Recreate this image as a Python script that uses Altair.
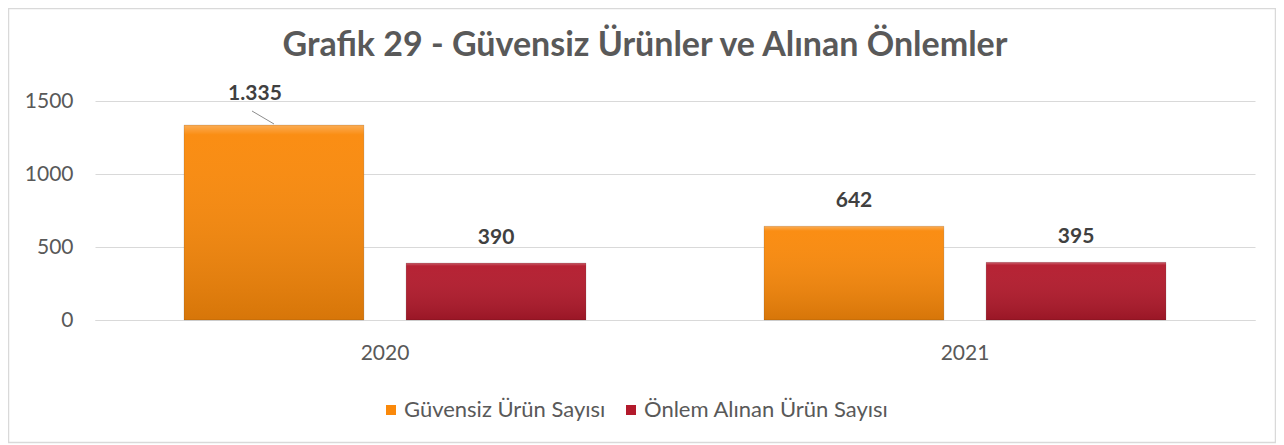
import altair as alt
import pandas as pd

years = ["2020", "2021"]
series = ["Güvensiz Ürün Sayısı", "Önlem Alınan Ürün Sayısı"]
guvensiz = [1335, 642]
onlem = [390, 395]
label_guvensiz = ["1.335", "642"]
label_onlem = ["390", "395"]
colors = ["#FA890A", "#B31A2C"]
y_ticks = [0, 500, 1000, 1500]
title_text = "Grafik 29 - Güvensiz Ürünler ve Alınan Önlemler"

rows = []
for i, y in enumerate(years):
    rows.append({"year": y, "series": series[0], "value": guvensiz[i], "label": label_guvensiz[i]})
    rows.append({"year": y, "series": series[1], "value": onlem[i], "label": label_onlem[i]})
df = pd.DataFrame(rows)

FONT = "Lato"
W, H = 1160, 219

x_enc = alt.X("year:N", title=None, sort=years,
              scale=alt.Scale(paddingInner=0.307, paddingOuter=0.1535),
              axis=alt.Axis(labelAngle=0, ticks=False, domainColor="#d9d9d9",
                            labelFontSize=21, labelColor="#595959", labelFont=FONT,
                            labelPadding=22))
xoff = alt.XOffset("series:N", sort=series, scale=alt.Scale(paddingInner=0.19, paddingOuter=0))

base = alt.Chart(df)

bars = base.mark_bar().encode(
    x=x_enc,
    xOffset=xoff,
    y=alt.Y("value:Q", title=None,
            scale=alt.Scale(domain=[0, 1500], nice=False),
            axis=alt.Axis(values=y_ticks, domain=False, ticks=False, gridColor="#d9d9d9",
                          labelFontSize=21, labelColor="#595959", labelFont=FONT,
                          labelPadding=22, format="d")),
    color=alt.Color("series:N", sort=series,
                    scale=alt.Scale(domain=series, range=colors),
                    legend=alt.Legend(title=None, orient="none", legendX=285, legendY=298,
                                      direction="horizontal", symbolType="square",
                                      symbolSize=100, symbolStrokeWidth=0,
                                      labelFontSize=22, labelColor="#595959", labelFont=FONT,
                                      labelOffset=2, columnPadding=14, labelLimit=500)),
)

shade = base.mark_bar(
    fill=alt.Gradient(gradient="linear", x1=0, y1=0, x2=0, y2=1,
                      stops=[alt.GradientStop(offset=0, color="rgba(255,255,255,0.30)"),
                             alt.GradientStop(offset=0.05, color="rgba(255,255,255,0.04)"),
                             alt.GradientStop(offset=1, color="rgba(0,0,0,0.14)")]),
    stroke="rgba(0,0,0,0.12)", strokeWidth=1
).encode(x=alt.X("year:N", sort=years), xOffset=xoff, y="value:Q")

labels_normal = base.transform_filter("datum.value < 1000").mark_text(
    fontWeight="bold", fontSize=21, font=FONT, color="#404040", dy=-25, baseline="middle"
).encode(x=alt.X("year:N", sort=years), xOffset=xoff, y="value:Q", text="label:N")

labels_high = base.transform_filter("datum.value >= 1000").mark_text(
    fontWeight="bold", fontSize=21, font=FONT, color="#404040", dx=-19, dy=-31, baseline="middle"
).encode(x=alt.X("year:N", sort=years), xOffset=xoff, y="value:Q", text="label:N")

one = pd.DataFrame({"k": [0]})

leader = alt.Chart(one).mark_rule(color="#8c8c8c", strokeWidth=1).encode(
    x=alt.value(157), x2=alt.value(179), y=alt.value(10), y2=alt.value(23))

border = alt.Chart(one).mark_rect(
    fill=None, stroke="#d9d9d9", strokeWidth=1.5).encode(
    x=alt.value(-86.5), x2=alt.value(1180.5), y=alt.value(-92.5), y2=alt.value(341.5))

title = alt.Chart(pd.DataFrame({"t": [title_text]})).mark_text(
    fontSize=34, font=FONT, fontWeight="bold", color="#595959", baseline="alphabetic",
    align="center").encode(x=alt.value(550), y=alt.value(-45), text="t:N")

chart = alt.layer(border, bars, shade, labels_normal, labels_high, leader, title).properties(
    width=W, height=H,
    autosize=alt.AutoSizeParams(type="none"),
    padding={"left": 87, "top": 93, "right": 21, "bottom": 124},
    background="white",
).configure_view(strokeWidth=0)

chart.save("out.html", embed_options={"renderer": "svg", "actions": False})
